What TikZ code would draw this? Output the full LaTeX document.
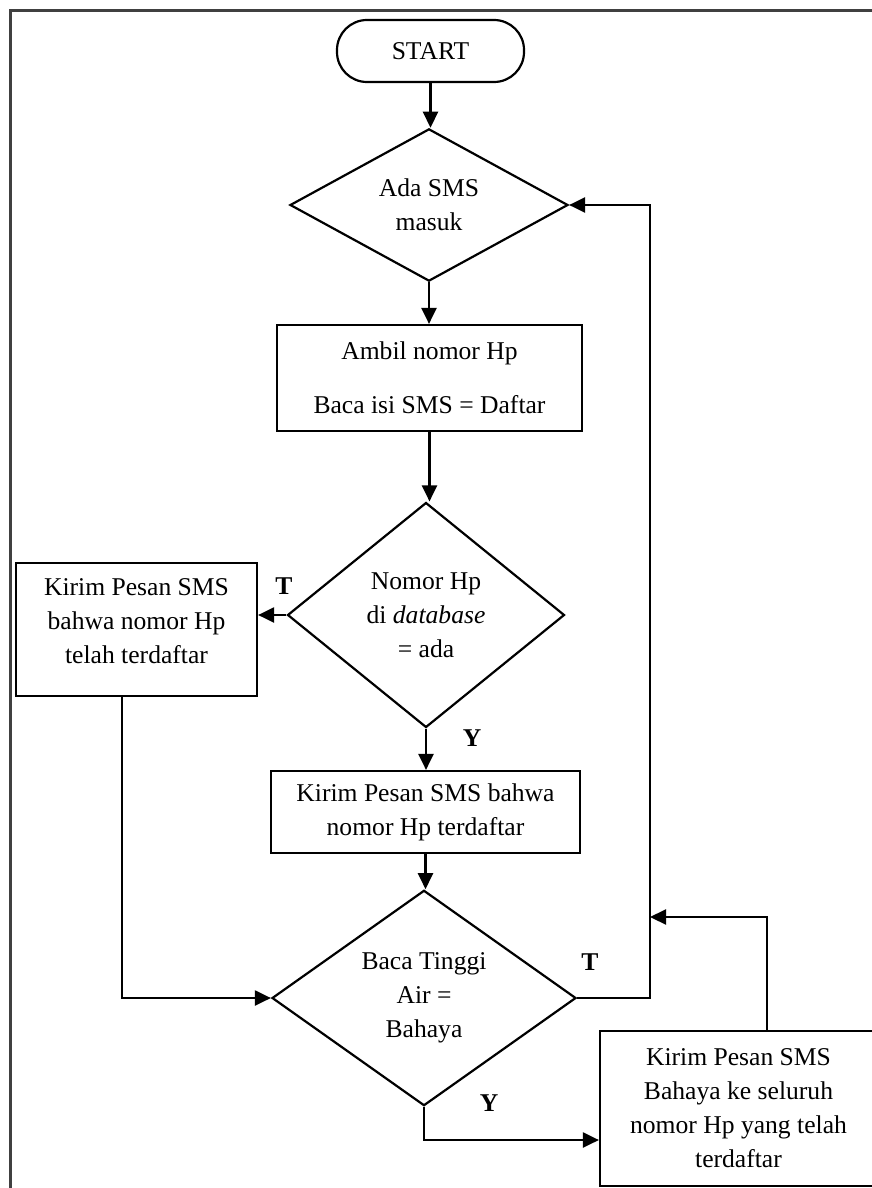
\documentclass[tikz,border=0pt]{standalone}
\usepackage{fontspec}
\setmainfont{Liberation Serif}
\usetikzlibrary{shapes.geometric,arrows.meta}

\begin{document}
\begin{tikzpicture}[x=1pt,y=-1pt,
  every node/.style={font=\fontsize{25.6}{34}\selectfont},
  flow/.style={line width=2.2pt, draw=black},
  proc/.style={flow, rectangle, inner sep=0pt, align=center},
  decision/.style={flow, diamond, inner sep=0pt, align=center},
  term/.style={flow, rectangle, rounded corners=30pt, inner sep=0pt},
  arr/.style={line width=2.2pt, -{Triangle[length=16pt,width=15pt]}},
  tag/.style={font=\fontsize{25.6}{34}\selectfont\bfseries, inner sep=0pt}
]
\useasboundingbox (0,0) rectangle (872,1188);
\fill[white] (0,0) rectangle (872,1188);
\clip (0,0) rectangle (872,1188);

% page frame (only its top and left sides fall on the page)
\draw[line width=3pt, draw=black!75] (10,11) rectangle (900,1210);

% flowchart blocks
\node[term, minimum width=187pt, minimum height=62pt] (start) at (430.5,51) {START};
\node[decision, minimum width=278pt, minimum height=136pt] (ask) at (429,205) {Ada SMS\\masuk};
\node[proc, minimum width=305pt, minimum height=106pt] (read) at (429.5,378) {Ambil nomor Hp\\[20pt]Baca isi SMS = Daftar};
\node[decision, minimum width=277pt, minimum height=225pt] (known) at (426,615) {Nomor Hp\\di \textit{database}\\= ada};
\node[proc, minimum width=241pt, minimum height=133pt] (already) at (136.5,629.5) {};
\node[align=center, inner sep=0pt] (already-t) at ([yshift=8pt]already.center) {Kirim Pesan SMS\\bahwa nomor Hp\\telah terdaftar};
\node[proc, minimum width=309pt, minimum height=82pt] (ok) at (425.5,812) {Kirim Pesan SMS bahwa\\nomor Hp terdaftar};
\node[decision, minimum width=304pt, minimum height=207pt] (level) at (424,998) {Baca Tinggi\\Air =\\Bahaya};
\node[proc, minimum width=277pt, minimum height=155pt] (alarm) at (738.5,1108.5) {Kirim Pesan SMS\\Bahaya ke seluruh\\nomor Hp yang telah\\terdaftar};

% branch labels
\node[tag] (t1) at (284,586) {T};
\node[tag] (y1) at (472,738) {Y};
\node[tag] (t2) at (590,962) {T};
\node[tag] (y2) at (489,1103) {Y};

% junction on the right-hand return rail
\coordinate (rail) at (650,917);

% connectors
\draw[arr] (start.south) -- (start.south |- ask.north);
\draw[arr] (ask.south) -- (ask.south |- read.north);
\draw[arr] (read.south) -- (read.south |- known.north);
\draw[arr] (known.west) -- (known.west -| already.east);
\draw[arr] (known.south) -- (known.south |- ok.north);
\draw[arr] (ok.south) -- (ok.south |- level.north);
\draw[arr] ([xshift=-14.5pt]already.south) |- (level.west);
\draw[arr] (level.east) -- (level.east -| rail) |- (ask.east);
\draw[arr] ([xshift=28.5pt]alarm.north) |- (rail);
\draw[arr] (level.south) |- ([yshift=-31.5pt]alarm.west);
\end{tikzpicture}
\end{document}
